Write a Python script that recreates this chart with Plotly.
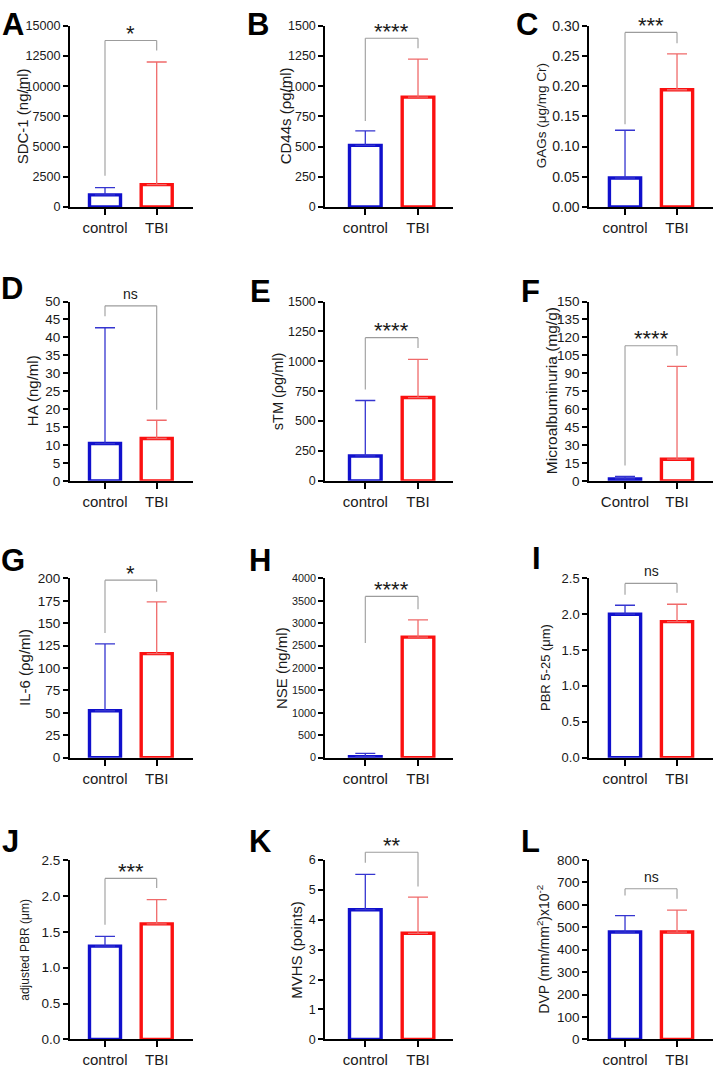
import plotly.graph_objects as go

# ---------------- data ----------------
letters = ['A', 'B', 'C', 'D', 'E', 'F', 'G', 'H', 'I', 'J', 'K', 'L']
y_titles = ['SDC-1 (ng/ml)', 'CD44s (ρg/ml)', 'GAGs (μg/mg Cr)',
            'HA (ng/ml)', 'sTM (ρg/ml)', 'Microalbuminuria (mg/g)',
            'IL-6 (ρg/ml)', 'NSE (ng/ml)', 'PBR 5-25 (μm)',
            'adjusted PBR (μm)', 'MVHS (points)',
            'DVP (mm/mm<sup>2</sup>)x10<sup>-2</sup>']
categories = ['control', 'TBI']
categories_F = ['Control', 'TBI']
y_max = [15000, 1500, 0.30, 50, 1500, 150, 200, 4000, 2.5, 2.5, 6, 800]
y_dtick = [2500, 250, 0.05, 5, 250, 15, 25, 500, 0.5, 0.5, 1, 100]
tick_format = ['d', 'd', '.2f', 'd', 'd', 'd', 'd', 'd', '.1f', '.1f', 'd', 'd']

control_mean = [1000, 510, 0.048, 10.4, 208, 1.6, 52.3, 20, 2.0, 1.30, 4.34, 479]
control_sd = [600, 120, 0.079, 32.3, 464, 2.2, 74.7, 75, 0.125, 0.137, 1.18, 73]
tbi_mean = [1850, 909, 0.194, 11.8, 697, 18.1, 116, 2690, 1.897, 1.61, 3.55, 479]
tbi_sd = [10150, 315, 0.0595, 5.1, 320, 77.6, 57.7, 385, 0.242, 0.338, 1.21, 98]

sig_label = ['*', '****', '***', 'ns', '****', '****', '*', '****', 'ns', '***', '**', 'ns']
bracket_y = [13773, 1396, 0.289, 48.8, 1198, 113, 198, 3598, 2.43, 2.245, 6.26, 672]
bracket_left_end = [2590, 712, 0.137, 45.9, 765, 12.9, 139, 2560, 2.27, 1.597, 5.91, 642]
bracket_right_end = [12955, 1314, 0.271, 19.8, 1111, 104.7, 185, 3313, 2.30, 2.11, 5.12, 628]

# ---------------- layout / style ----------------
W, H = 714, 1072
row_top = [18, 298, 579, 865]
row_bot = [202, 480, 761, 1047]
col_left = [70, 325.3, 589.3]
col_right = [193, 453, 713]
col_xrange = [[-0.677, 1.702], [-0.759, 1.664], [-0.687, 1.692]]
title_x_px = [22, 285, 541, 32, 278, 551, 24, 281, 545, 25, 297, 543]
title_size = [15, 15, 13.5, 15, 14.5, 15.5, 15, 15, 13, 12, 15, 14]
tick_size = [12.6, 12.5, 14, 13.5, 12.5, 13.5, 13.5, 10.8, 13, 13.5, 12.5, 13.5]
letter_pos = [(13, 17), (258, 17), (527, 17), (12, 285), (260, 288), (530, 288),
              (13, 561), (260, 561), (536, 559), (10, 846), (260, 846), (530, 846)]

FONT = 'Liberation Sans, Arial, sans-serif'
BLUE = '#1010cc'
RED = '#fb1010'
BLUE_ERR = '#3535d0'
RED_ERR = '#f06a6a'
GRAY = '#9c9c9c'
TXT = '#1a1a1a'

fig = go.Figure()
shapes = []
annotations = []
layout_axes = {}

for i in range(12):
    r, c = divmod(i, 3)
    sfx = '' if i == 0 else str(i + 1)
    xn, yn = 'x' + sfx, 'y' + sfx
    ydom = [1 - row_bot[r] / H, 1 - row_top[r] / H]
    xdom = [col_left[c] / W, col_right[c] / W]

    fig.add_trace(go.Bar(
        x=[0], y=[control_mean[i]], width=0.6, xaxis=xn, yaxis=yn,
        marker=dict(color='white', line=dict(color=BLUE, width=3.4)),
        error_y=dict(type='data', symmetric=False, array=[control_sd[i]],
                     arrayminus=[0], color=BLUE_ERR, thickness=1.3, width=10),
        showlegend=False, hoverinfo='skip'))
    fig.add_trace(go.Bar(
        x=[1], y=[tbi_mean[i]], width=0.6, xaxis=xn, yaxis=yn,
        marker=dict(color='white', line=dict(color=RED, width=3.4)),
        error_y=dict(type='data', symmetric=False, array=[tbi_sd[i]],
                     arrayminus=[0], color=RED_ERR, thickness=1.3, width=10),
        showlegend=False, hoverinfo='skip'))

    layout_axes['xaxis' + sfx] = dict(
        domain=xdom, anchor=yn, range=col_xrange[c], tickmode='array',
        tickvals=[0, 1], ticktext=categories_F if i == 5 else categories,
        ticks='outside', ticklen=6, tickwidth=2, tickcolor='black',
        showline=True, linewidth=2, linecolor='black', showgrid=False,
        zeroline=False, fixedrange=True,
        tickfont=dict(family=FONT, size=15, color=TXT))
    layout_axes['yaxis' + sfx] = dict(
        domain=ydom, anchor=xn, range=[0, y_max[i]], tickmode='linear',
        tick0=0, dtick=y_dtick[i], tickformat=tick_format[i],
        ticks='outside', ticklen=5, tickwidth=1.8, tickcolor='black',
        showline=True, linewidth=2, linecolor='black', showgrid=False,
        zeroline=False, fixedrange=True,
        tickfont=dict(family=FONT, size=tick_size[i], color=TXT))

    ydref = yn + ' domain'
    fb = bracket_y[i] / y_max[i]
    fl = bracket_left_end[i] / y_max[i]
    fr = bracket_right_end[i] / y_max[i]
    ln = dict(color=GRAY, width=1.1)
    shapes += [
        dict(type='line', xref=xn, yref=ydref, x0=0, x1=0, y0=fl, y1=fb, line=ln),
        dict(type='line', xref=xn, yref=ydref, x0=0, x1=1, y0=fb, y1=fb, line=ln),
        dict(type='line', xref=xn, yref=ydref, x0=1, x1=1, y0=fb, y1=fr, line=ln),
    ]
    py = ydom[0] + fb * (ydom[1] - ydom[0])
    is_ns = sig_label[i] == 'ns'
    annotations.append(dict(
        x=0.5, xref=xn, y=py, yref='paper', text=sig_label[i], showarrow=False,
        xanchor='center', yanchor='middle', yshift=12 if is_ns else 7,
        font=dict(family=FONT, size=14 if is_ns else 22, color=TXT)))

    # y-axis title
    annotations.append(dict(
        x=title_x_px[i] / W, xref='paper', y=(ydom[0] + ydom[1]) / 2, yref='paper',
        text=y_titles[i], textangle=-90, showarrow=False,
        xanchor='center', yanchor='middle',
        font=dict(family=FONT, size=title_size[i], color=TXT)))

    # panel letter
    lx, ly = letter_pos[i]
    annotations.append(dict(
        x=lx / W, xref='paper', y=1 - ly / H, yref='paper',
        text='<b>' + letters[i] + '</b>', showarrow=False,
        xanchor='center', yanchor='middle',
        font=dict(family=FONT, size=31, color='black')))

fig.update_layout(
    width=W, height=H, autosize=False,
    margin=dict(l=0, r=0, t=0, b=0),
    paper_bgcolor='white', plot_bgcolor='white',
    barmode='overlay', shapes=shapes, annotations=annotations,
    **layout_axes)

fig.write_html('out.html', config={'displayModeBar': False})
